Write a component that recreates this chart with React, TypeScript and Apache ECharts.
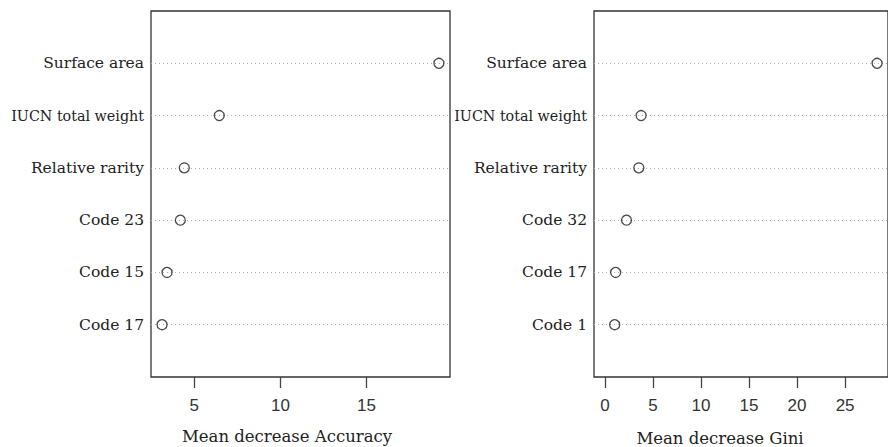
import React, { useEffect, useRef } from "react";
import * as echarts from "echarts";

const accLabels = ["Surface area", "IUCN total weight", "Relative rarity", "Code 23", "Code 15", "Code 17"];
const accValues = [19.2, 6.45, 4.42, 4.19, 3.42, 3.13];
const giniLabels = ["Surface area", "IUCN total weight", "Relative rarity", "Code 32", "Code 17", "Code 1"];
const giniValues = [28.33, 3.77, 3.53, 2.25, 1.12, 1.02];
const accTicks = [5, 10, 15];
const giniTicks = [0, 5, 10, 15, 20, 25];
const accTitle = "Mean decrease Accuracy";
const giniTitle = "Mean decrease Gini";

const SERIF = "DejaVu Serif";
const SANS = "Liberation Sans";

function rRange(lo: number, hi: number) {
  const pad = (hi - lo) * 0.04;
  return [lo - pad, hi + pad];
}

export default function App() {
  const ref = useRef<HTMLDivElement>(null);
  useEffect(() => {
    if (!ref.current) return;
    const chart = echarts.init(ref.current, null, { renderer: "svg" });
    const n = accLabels.length;
    const accRange = rRange(Math.min(...accValues), Math.max(...accValues));
    const giniRange = rRange(0, Math.max(...giniValues));

    const yAxisFor = (labels: string[], gridIndex: number) => ({
      type: "value" as const,
      gridIndex,
      min: 0,
      max: n + 1,
      interval: 1,
      axisLine: { show: false },
      axisTick: { show: false },
      splitLine: {
        show: true,
        showMinLine: false,
        showMaxLine: false,
        lineStyle: { color: "#b0b0b0", type: [1, 3], width: 1 },
      },
      axisLabel: {
        margin: 7,
        formatter: (v: number) => {
          const idx = n - Math.round(v);
          if (idx < 0 || idx >= n) return "";
          const s = labels[idx];
          return s.length > 15 ? `{b|${s}}` : `{a|${s}}`;
        },
        rich: {
          a: { fontFamily: SERIF, fontSize: 15.5, color: "#222" },
          b: { fontFamily: SERIF, fontSize: 14.3, color: "#222" },
        },
      },
    });

    const xAxisFor = (range: number[], ticks: number[], gridIndex: number) => ({
      type: "value" as const,
      gridIndex,
      min: range[0],
      max: range[1],
      axisLine: { show: false },
      splitLine: { show: false },
      axisTick: {
        show: true,
        length: 11,
        lineStyle: { color: "#444", width: 1.3 },
        customValues: ticks,
      },
      axisLabel: {
        show: true,
        margin: 20,
        fontFamily: SANS,
        fontSize: 17,
        color: "#333",
        customValues: ticks,
      },
    });

    const seriesFor = (values: number[], idx: number) => ({
      type: "scatter" as const,
      xAxisIndex: idx,
      yAxisIndex: idx,
      symbol: "circle",
      symbolSize: 10,
      clip: false,
      itemStyle: { color: "rgba(255,255,255,0)", borderColor: "#1a1a1a", borderWidth: 1.3 },
      data: values.map((v, i) => [v, n - i]),
    });

    chart.setOption({
      animation: false,
      backgroundColor: "#fff",
      grid: [
        { left: 151, top: 11, width: 299, height: 366, show: true, borderColor: "#333", borderWidth: 1.3, backgroundColor: "transparent" },
        { left: 594, top: 11, width: 299, height: 366, show: true, borderColor: "#333", borderWidth: 1.3, backgroundColor: "transparent" },
      ],
      xAxis: [xAxisFor(accRange, accTicks, 0), xAxisFor(giniRange, giniTicks, 1)],
      yAxis: [yAxisFor(accLabels, 0), yAxisFor(giniLabels, 1)],
      series: [seriesFor(accValues, 0), seriesFor(giniValues, 1)],
      graphic: [
        {
          type: "text",
          x: 287,
          y: 436,
          style: { text: accTitle, fontFamily: SERIF, fontSize: 16.5, fill: "#222", align: "center", verticalAlign: "middle" },
        },
        {
          type: "text",
          x: 720,
          y: 438,
          style: { text: giniTitle, fontFamily: SERIF, fontSize: 16.5, fill: "#222", align: "center", verticalAlign: "middle" },
        },
      ],
    });
    return () => chart.dispose();
  }, []);
  return <div ref={ref} style={{ position: "fixed", left: 0, top: 0, width: 888, height: 447, background: "#fff" }} />;
}
